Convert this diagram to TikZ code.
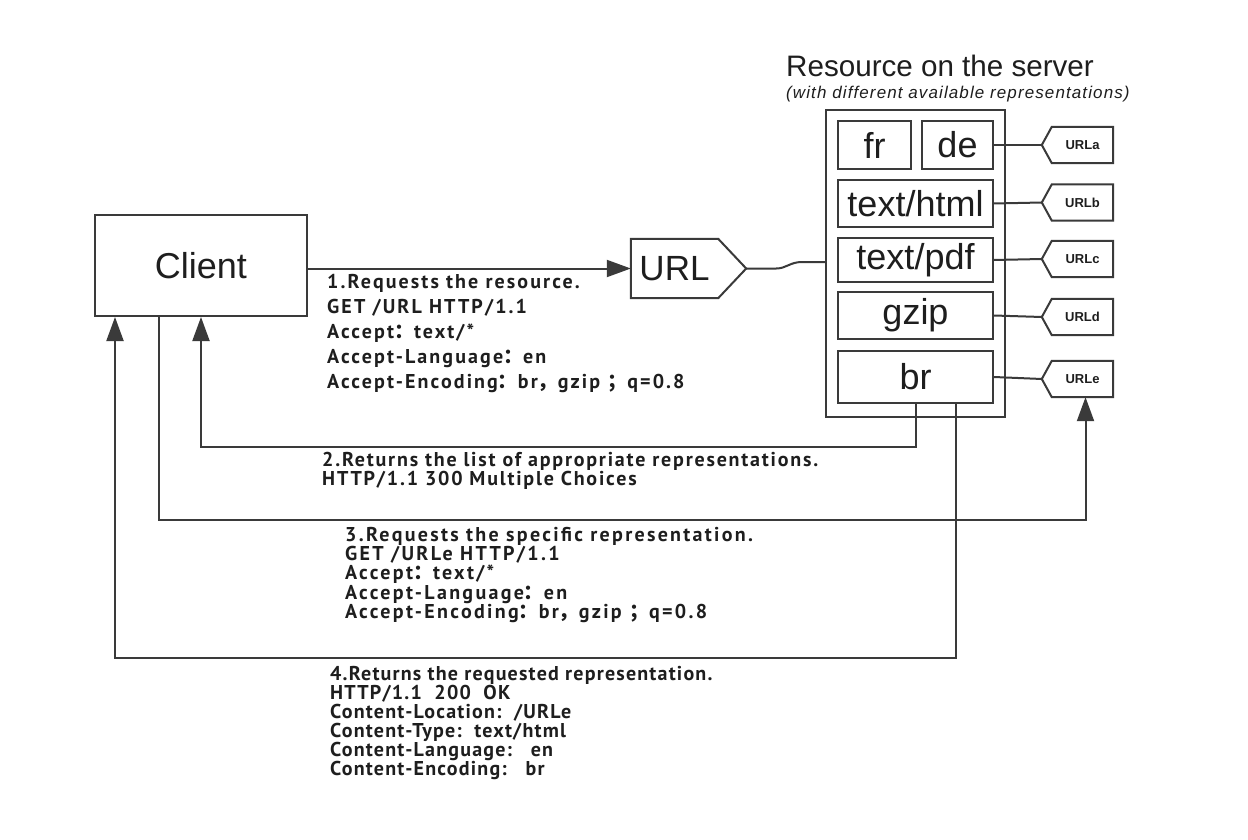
\documentclass[tikz,border=0pt]{standalone}
\usepackage{fontspec}
\setmainfont{Liberation Sans}
\newfontfamily\lab{PT Sans}
\newfontfamily\cjk{Noto Sans CJK SC}
\usetikzlibrary{arrows.meta,calc}
\definecolor{linec}{HTML}{3A3A3A}
\definecolor{txt}{HTML}{1E1E1E}
\newcommand\fcolon{{\cjk ：}}
\newcommand\fcomma{{\cjk ，}}
\newcommand\fsemi{{\cjk ；}}
\begin{document}
\begin{tikzpicture}[x=1pt,y=-1pt,
  ln/.style={draw=linec, line width=2pt},
  arr/.style={ln, -{Triangle[length=24pt,width=17pt]}},
  box/.style={ln, inner sep=0pt, text=txt, font=\fontsize{36}{40}\selectfont},
  tag/.style={inner sep=0pt, minimum width=61pt, minimum height=36pt, text=txt, font=\bfseries\fontsize{13}{15}\selectfont},
  msg/.style={inner sep=0pt, anchor=north west, align=left, text=txt},
]
\useasboundingbox[fill=white] (0,0) rectangle (1248,840);

% client
\node[box, minimum width=212pt, minimum height=101pt] (client) at (201,265.5) {Client};

% URL
\node[inner sep=0pt, minimum width=87pt, minimum height=59pt, text=txt, font=\fontsize{35}{40}\selectfont] (url) at (674.5,268.5) {URL};
\draw[ln] (url.north west) -- (url.north east) -- ([xshift=28pt]url.east) -- (url.south east) -- (url.south west) -- cycle;

% server
\node[anchor=base west, inner sep=0pt, text=txt, font=\fontsize{29.6}{34}\selectfont] (title) at (786,77) {Resource on the server};
\node[anchor=base west, inner sep=0pt, text=txt, font=\itshape\fontsize{17}{19}\selectfont\addfontfeature{LetterSpace=6.5}] (sub) at (786,99) {(with different available representations)};
\node[box, minimum width=179pt, minimum height=307pt] (server) at (915.5,263.5) {};
\node[box, minimum width=73pt, minimum height=48pt] (fr) at (874.5,145) {fr};
\node[box, minimum width=71pt, minimum height=48pt] (de) at (957.5,145) {de};
\node[box, minimum width=155pt, minimum height=47pt] (html) at (915.5,203.5) {text/html};
\node[box, minimum width=155pt, minimum height=44pt] (pdf) at (915.5,260) {text/pdf};
\node[box, minimum width=155pt, minimum height=47pt] (gzip) at (915.5,315.5) {gzip};
\node[box, minimum width=155pt, minimum height=52pt] (br) at (915.5,377) {br};

% tags
\node[tag] (urla) at (1082.5,145) {URLa};
\node[tag] (urlb) at (1082.5,202.5) {URLb};
\node[tag] (urlc) at (1082.5,259) {URLc};
\node[tag] (urld) at (1082.5,317) {URLd};
\node[tag] (urle) at (1082.5,379) {URLe};
\foreach \t in {urla,urlb,urlc,urld,urle}
  \draw[ln] (\t.north west) -- (\t.north east) -- (\t.south east) -- (\t.south west) -- ([xshift=-10pt]\t.west) -- cycle;

\draw[ln] (de.east) -- ([xshift=-10pt]urla.west);
\draw[ln] (html.east) -- ([xshift=-10pt]urlb.west);
\draw[ln] (pdf.east) -- ([xshift=-10pt]urlc.west);
\draw[ln] (gzip.east) -- ([xshift=-10pt]urld.west);
\draw[ln] (br.east) -- ([xshift=-10pt]urle.west);

% URL to server
\draw[ln] ([xshift=28pt]url.east) -- ++(30,0) .. controls +(10,0) and (790,262) .. (802,262) -- (server.west |- 0,262);

% messages
\draw[arr] (client.east |- url.west) -- (url.west);
\draw[arr] (br.south) -- ++(0,43) -| (client.south);
\draw[arr] ([xshift=-42pt]client.south) -- ++(0,203) -| ([xshift=3pt]urle.south);
\draw[arr] ([xshift=40pt]br.south) -- ++(0,254) -| ([xshift=-86pt]client.south);

\node[msg, font=\lab\bfseries\fontsize{20}{25}\selectfont\addfontfeature{LetterSpace=10.5}] (m1) at (327,274) {1.Requests the resource.\\
GET /URL HTTP/1.1\\
Accept\fcolon text/*\\
Accept-Language\fcolon en\\
Accept-Encoding\fcolon br\fcomma gzip \fsemi q=0.8};

\node[msg, font=\lab\bfseries\fontsize{20}{18}\selectfont\addfontfeature{LetterSpace=9}] (m2) at (322,452) {2.Returns the list of appropriate representations.\\
HTTP/1.1 300 Multiple Choices};

\node[msg, font=\lab\bfseries\fontsize{20}{19.2}\selectfont\addfontfeature{LetterSpace=11.5}] (m3) at (345,527) {3.Requests the specific representation.\\
GET /URLe HTTP/1.1\\
Accept\fcolon text/*\\
Accept-Language\fcolon en\\
Accept-Encoding\fcolon br\fcomma gzip \fsemi q=0.8};

\node[msg, font=\lab\bfseries\fontsize{20}{19}\selectfont\addfontfeature{LetterSpace=6}] (m4) at (330,666) {4.Returns the requested representation.\\
HTTP/1.1\ \ 200\ \ OK\\
Content-Location:\ \ /URLe\\
Content-Type:\ \ text/html\\
Content-Language:\ \ \ en\\
Content-Encoding:\ \ \ br};
\end{tikzpicture}
\end{document}
